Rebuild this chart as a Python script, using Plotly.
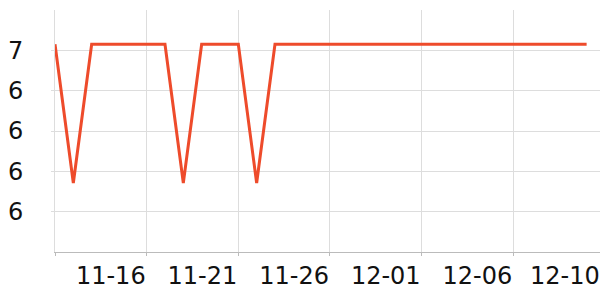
import plotly.graph_objects as go

dates = ["11-11", "11-12", "11-13", "11-14", "11-15", "11-16", "11-17", "11-18", "11-19", "11-20",
         "11-21", "11-22", "11-23", "11-24", "11-25", "11-26", "11-27", "11-28", "11-29", "11-30",
         "12-01", "12-02", "12-03", "12-04", "12-05", "12-06", "12-07", "12-08", "12-09", "12-10"]
values = [6.515, 6.171, 6.515, 6.515, 6.515, 6.515, 6.515, 6.171, 6.515, 6.515,
          6.515, 6.171, 6.515, 6.515, 6.515, 6.515, 6.515, 6.515, 6.515, 6.515,
          6.515, 6.515, 6.515, 6.515, 6.515, 6.515, 6.515, 6.515, 6.515, 6.515]

x_tick_vals = ["11-11", "11-16", "11-21", "11-26", "12-01", "12-06"]
x_tick_text = ["", "11-16", "11-21", "11-26", "12-01", "12-06"]
last_label = "12-10"

y_tick_vals = [6.1, 6.2, 6.3, 6.4, 6.5]
y_tick_text = ["6", "6", "6", "6", "7"]

font = dict(family="DejaVu Sans", size=24, color="#111111")

fig = go.Figure()
fig.add_trace(go.Scatter(
    x=dates, y=values, mode="lines",
    line=dict(color="#EE4B2B", width=3),
    hoverinfo="skip",
))

fig.add_annotation(
    x=last_label, xref="x", y=0, yref="paper",
    text=last_label, showarrow=False,
    xanchor="center", yanchor="top", xshift=-22, yshift=-8,
    font=font,
)

fig.update_layout(
    width=600, height=300,
    margin=dict(l=55, r=0, t=10, b=48),
    paper_bgcolor="white", plot_bgcolor="white",
    showlegend=False,
    xaxis=dict(
        type="category",
        categoryorder="array", categoryarray=dates,
        range=[0, 29.73],
        tickmode="array", tickvals=x_tick_vals, ticktext=x_tick_text,
        ticklabelposition="outside left",
        ticklabelstandoff=2,
        showgrid=True, gridcolor="#dddddd", gridwidth=1,
        showline=True, linecolor="#bbbbbb", linewidth=1,
        ticks="outside", ticklen=3, tickcolor="#bbbbbb",
        tickfont=font,
        zeroline=False,
    ),
    yaxis=dict(
        range=[6.0, 6.6],
        tickmode="array", tickvals=y_tick_vals, ticktext=y_tick_text,
        showgrid=True, gridcolor="#dddddd", gridwidth=1,
        showline=True, linecolor="#dddddd", linewidth=1,
        ticks="outside", ticklen=3, tickcolor="#dddddd",
        ticklabelstandoff=23,
        tickfont=font,
        zeroline=False,
    ),
)

fig.write_html("out.html")
